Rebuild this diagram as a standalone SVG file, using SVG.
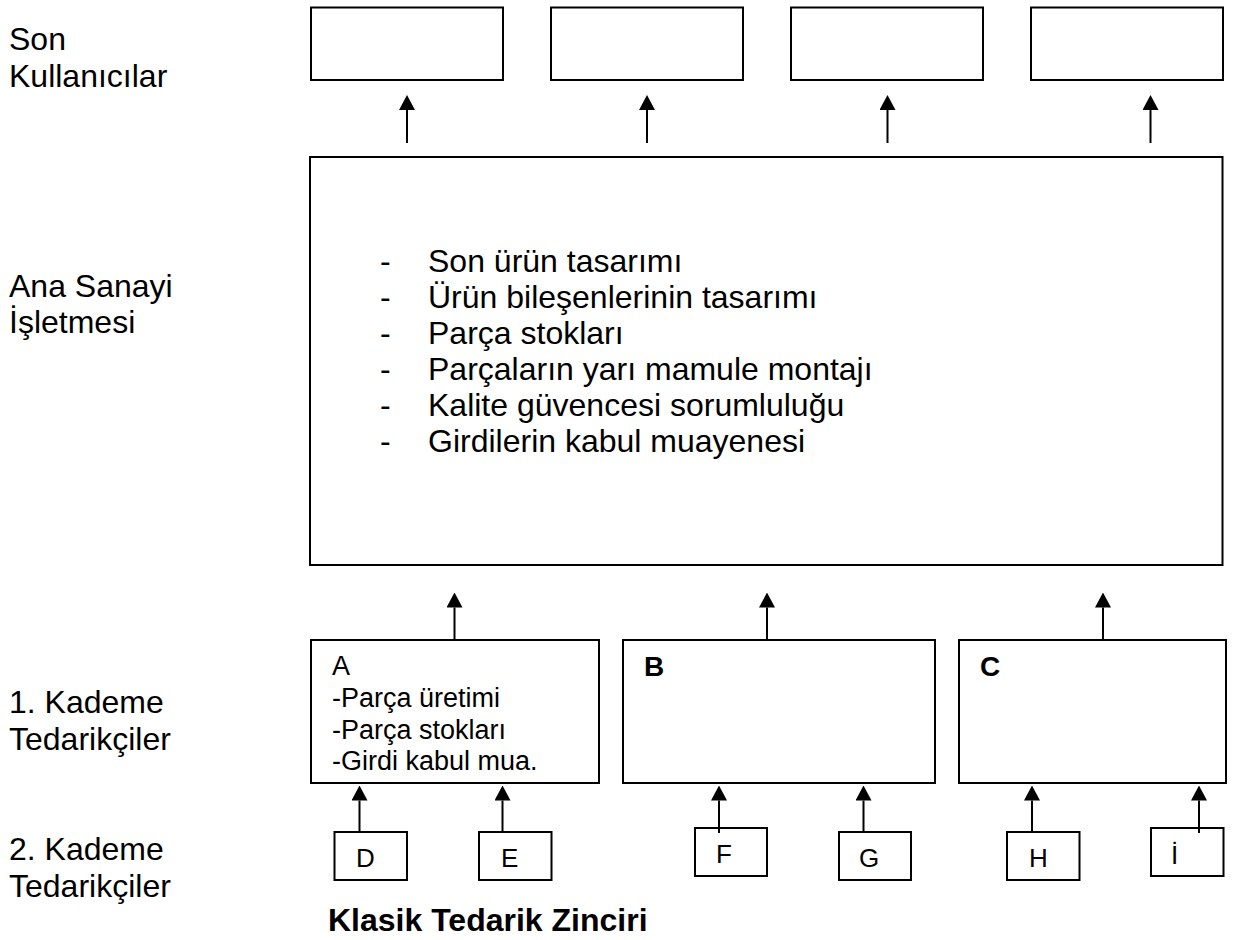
<svg xmlns="http://www.w3.org/2000/svg" width="1233" height="940" viewBox="0 0 1233 940">
  <style>
    .box { fill: #ffffff; stroke: #000000; stroke-width: 2; }
    .conn { stroke: #000000; stroke-width: 2; fill: none; marker-end: url(#head); }
    .t { font-family: "Liberation Sans", Arial, sans-serif; fill: #000000; }
    .side { font-size: 32px; }
    .list { font-size: 32px; }
    .sub { font-size: 27px; }
    .key { font-size: 28px; }
    .tag { font-size: 26px; }
    .bold { font-weight: bold; }
  </style>
  <defs>
    <marker id="head" viewBox="0 0 15 16" markerWidth="15" markerHeight="16" refX="0" refY="8" orient="auto" markerUnits="userSpaceOnUse">
      <path d="M0,0 L15,8 L0,16 Z" fill="#000000"/>
    </marker>
  </defs>
  <rect width="1233" height="940" fill="#ffffff"/>

  <!-- level labels -->
  <g id="labels" class="t side">
    <text x="9" y="50">Son</text>
    <text x="9" y="87">Kullanıcılar</text>
    <text x="9" y="297">Ana Sanayi</text>
    <text x="9" y="333">İşletmesi</text>
    <text x="9" y="713">1. Kademe</text>
    <text x="9" y="750">Tedarikçiler</text>
    <text x="9" y="860">2. Kademe</text>
    <text x="9" y="897">Tedarikçiler</text>
  </g>

  <!-- end users -->
  <g id="user1"><rect class="box" x="311" y="7.5" width="192" height="72.5"/></g>
  <g id="user2"><rect class="box" x="551" y="7.5" width="192" height="72.5"/></g>
  <g id="user3"><rect class="box" x="791" y="7.5" width="192" height="72.5"/></g>
  <g id="user4"><rect class="box" x="1031" y="7.5" width="192" height="72.5"/></g>

  <!-- main manufacturer -->
  <g id="main">
    <rect class="box" x="310" y="157" width="912.5" height="408"/>
    <g class="t list">
      <text x="380" y="272">-</text><text x="428" y="272">Son ürün tasarımı</text>
      <text x="380" y="308">-</text><text x="428" y="308">Ürün bileşenlerinin tasarımı</text>
      <text x="380" y="344">-</text><text x="428" y="344">Parça stokları</text>
      <text x="380" y="380">-</text><text x="428" y="380">Parçaların yarı mamule montajı</text>
      <text x="380" y="416">-</text><text x="428" y="416">Kalite güvencesi sorumluluğu</text>
      <text x="380" y="452">-</text><text x="428" y="452">Girdilerin kabul muayenesi</text>
    </g>
  </g>

  <!-- tier 1 suppliers -->
  <g id="supplierA">
    <rect class="box" x="311" y="640" width="288" height="143"/>
    <g class="t sub">
      <text x="332" y="675">A</text>
      <text x="332" y="707">-Parça üretimi</text>
      <text x="332" y="739">-Parça stokları</text>
      <text x="332" y="770">-Girdi kabul mua.</text>
    </g>
  </g>
  <g id="supplierB">
    <rect class="box" x="623" y="640" width="312" height="143"/>
    <text class="t key bold" x="644" y="676">B</text>
  </g>
  <g id="supplierC">
    <rect class="box" x="959" y="640" width="267" height="143"/>
    <text class="t key bold" x="980" y="676">C</text>
  </g>

  <!-- tier 2 suppliers -->
  <g id="supplierD">
    <rect class="box" x="334.5" y="832" width="72.5" height="48"/>
    <text class="t tag" x="356" y="867">D</text>
  </g>
  <g id="supplierE">
    <rect class="box" x="479" y="832" width="72.5" height="48"/>
    <text class="t tag" x="501" y="867">E</text>
  </g>
  <g id="supplierF">
    <rect class="box" x="695" y="828" width="72" height="48"/>
    <text class="t tag" x="716" y="863">F</text>
  </g>
  <g id="supplierG">
    <rect class="box" x="839" y="832" width="72" height="48"/>
    <text class="t tag" x="859" y="867">G</text>
  </g>
  <g id="supplierH">
    <rect class="box" x="1007" y="832" width="72.5" height="48"/>
    <text class="t tag" x="1029" y="867">H</text>
  </g>
  <g id="supplierI">
    <rect class="box" x="1151" y="828" width="72.5" height="48"/>
    <text class="t tag" x="1171" y="864">İ</text>
  </g>

  <!-- flows -->
  <g id="connectors">
    <line class="conn" x1="407" y1="143" x2="407" y2="110"/>
    <line class="conn" x1="647" y1="143" x2="647" y2="110"/>
    <line class="conn" x1="887.5" y1="143" x2="887.5" y2="110"/>
    <line class="conn" x1="1150.5" y1="143" x2="1150.5" y2="110"/>

    <line class="conn" x1="454.5" y1="640" x2="454.5" y2="607.5"/>
    <line class="conn" x1="767" y1="640" x2="767" y2="607.5"/>
    <line class="conn" x1="1103" y1="640" x2="1103" y2="607.5"/>

    <line class="conn" x1="359.5" y1="833" x2="359.5" y2="800.5"/>
    <line class="conn" x1="502.5" y1="833" x2="502.5" y2="800.5"/>
    <line class="conn" x1="719" y1="833" x2="719" y2="800.5"/>
    <line class="conn" x1="863.5" y1="833" x2="863.5" y2="800.5"/>
    <line class="conn" x1="1032" y1="833" x2="1032" y2="800.5"/>
    <line class="conn" x1="1199" y1="833" x2="1199" y2="800.5"/>
  </g>

  <text id="title" class="t bold" x="328" y="931" font-size="32">Klasik Tedarik Zinciri</text>
</svg>
